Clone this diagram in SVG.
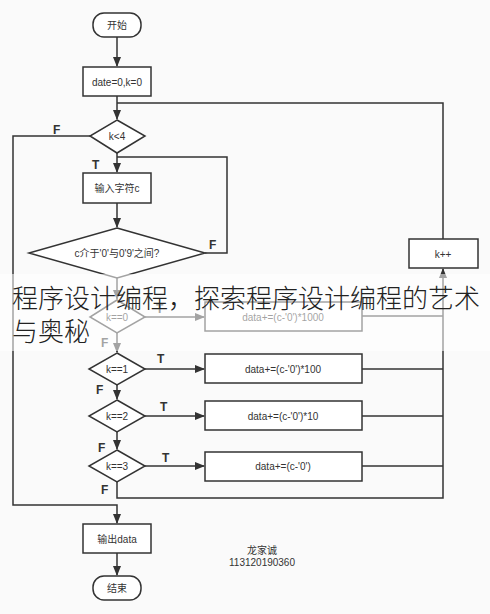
<svg xmlns="http://www.w3.org/2000/svg" width="490" height="614" viewBox="0 0 490 614">
<defs>
<marker id="ah" markerWidth="10" markerHeight="10" refX="9" refY="5" orient="auto" markerUnits="userSpaceOnUse">
<path d="M0,1 L10,5 L0,9 Z" fill="#333"/>
</marker>
<style>
.n{fill:#fff;stroke:#333;stroke-width:1.5}
.t{font-family:"Liberation Sans","Noto Sans CJK SC",sans-serif;font-size:10px;fill:#333;text-anchor:middle;dominant-baseline:central}
.l{font-family:"Liberation Sans",sans-serif;font-size:12px;font-weight:bold;fill:#333}
.c{fill:none;stroke:#333;stroke-width:1.5}
.w{font-family:"Noto Sans CJK SC",sans-serif;font-size:26px;font-weight:300;fill:#222}
</style>
</defs>
<rect width="490" height="614" fill="#fafafa"/>
<g id="connectors">
<path class="c" d="M117,37 V66" marker-end="url(#ah)"/>
<path class="c" d="M117,96 V119" marker-end="url(#ah)"/>
<path class="c" d="M90,136 H13 V505 H117 V523" marker-end="url(#ah)"/>
<path class="c" d="M117,153 V172" marker-end="url(#ah)"/>
<path class="c" d="M117,203 V227" marker-end="url(#ah)"/>
<path class="c" d="M205,253 H227 V157 H117"/>
<path class="c" d="M117,278 V299" marker-end="url(#ah)"/>
<path class="c" d="M145,317 H204" marker-end="url(#ah)"/>
<path class="c" d="M362,316 H443"/>
<path class="c" d="M117,333 V352" marker-end="url(#ah)"/>
<path class="c" d="M145,369 H204" marker-end="url(#ah)"/>
<path class="c" d="M362,369 H443"/>
<path class="c" d="M117,385 V399" marker-end="url(#ah)"/>
<path class="c" d="M145,416 H204" marker-end="url(#ah)"/>
<path class="c" d="M362,416 H443"/>
<path class="c" d="M117,432 V449" marker-end="url(#ah)"/>
<path class="c" d="M145,466 H204" marker-end="url(#ah)"/>
<path class="c" d="M362,466 H443"/>
<path class="c" d="M117,482 V498 H443 V269" marker-end="url(#ah)"/>
<path class="c" d="M443,239 V103 H117"/>
<path class="c" d="M117,553 V575" marker-end="url(#ah)"/>
</g>
<g id="start"><rect class="n" x="93" y="13" width="48" height="24" rx="11"/><text class="t" x="117" y="25">开始</text></g>
<g id="init"><rect class="n" x="83" y="67" width="68" height="29"/><text class="t" x="117" y="82">date=0,k=0</text></g>
<g id="cond_k4"><polygon class="n" points="117,120 145,136 117,153 90,136"/><text class="t" x="117" y="136">k&lt;4</text></g>
<g id="input"><rect class="n" x="83" y="173" width="68" height="30"/><text class="t" x="117" y="188">输入字符c</text></g>
<g id="cond_digit"><polygon class="n" points="117,228 205,253 117,278 29,253"/><text class="t" x="117" y="253">c介于'0'与0'9'之间?</text></g>
<g id="cond_k0"><polygon class="n" points="117,300 145,317 117,333 90,317"/><text class="t" x="117" y="317">k==0</text></g>
<g id="add1000"><rect class="n" x="205" y="302" width="157" height="29"/><text class="t" x="283" y="317">data+=(c-'0')*1000</text></g>
<g id="cond_k1"><polygon class="n" points="117,353 145,369 117,385 89,369"/><text class="t" x="117" y="369">k==1</text></g>
<g id="add100"><rect class="n" x="205" y="354" width="157" height="29"/><text class="t" x="283" y="369">data+=(c-'0')*100</text></g>
<g id="cond_k2"><polygon class="n" points="117,400 145,416 117,432 89,416"/><text class="t" x="117" y="416">k==2</text></g>
<g id="add10"><rect class="n" x="205" y="401" width="157" height="29"/><text class="t" x="283" y="416">data+=(c-'0')*10</text></g>
<g id="cond_k3"><polygon class="n" points="117,450 145,466 117,482 89,466"/><text class="t" x="117" y="466">k==3</text></g>
<g id="add1"><rect class="n" x="205" y="452" width="157" height="29"/><text class="t" x="283" y="466">data+=(c-'0')</text></g>
<g id="inc"><rect class="n" x="409" y="239" width="69" height="29"/><text class="t" x="443" y="254">k++</text></g>
<g id="output"><rect class="n" x="83" y="524" width="68" height="29"/><text class="t" x="117" y="539">输出data</text></g>
<g id="end"><rect class="n" x="93" y="576" width="48" height="24" rx="11"/><text class="t" x="117" y="588">结束</text></g>
<g id="labels">
<text class="l" x="53" y="134">F</text>
<text class="l" x="92" y="169">T</text>
<text class="l" x="209" y="249">F</text>
<text class="l" x="156" y="313">T</text>
<text class="l" x="101" y="347">F</text>
<text class="l" x="157" y="363">T</text>
<text class="l" x="96" y="394">F</text>
<text class="l" x="160" y="411">T</text>
<text class="l" x="98" y="452">F</text>
<text class="l" x="162" y="462">T</text>
<text class="l" x="101" y="494">F</text>
</g>
<g id="author">
<text class="t" x="262" y="550">龙家诚</text>
<text class="t" x="262" y="562">113120190360</text>
</g>
<rect x="0" y="274" width="490" height="77" fill="#fff" opacity="0.55"/>
<text class="w" x="12" y="308">程序设计编程，探索程序设计编程的艺术</text>
<text class="w" x="12" y="341">与奥秘</text>
</svg>
